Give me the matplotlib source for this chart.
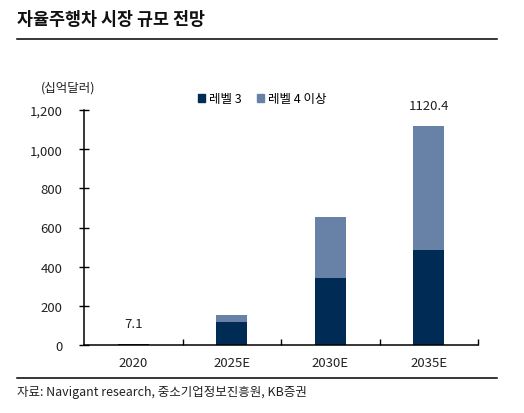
import matplotlib
matplotlib.use("Agg")
import matplotlib.pyplot as plt
from matplotlib.patches import Patch
from matplotlib.lines import Line2D

plt.rcParams['font.family'] = ['Noto Sans CJK KR', 'DejaVu Sans']

categories = ["2020", "2025E", "2030E", "2035E"]
level3 = [6.0, 120, 342, 485]
level4 = [1.1, 35, 311, 635.4]
totals_labels = {0: "7.1", 3: "1120.4"}
yticks = [0, 200, 400, 600, 800, 1000, 1200]
ytick_labels = ["0", "200", "400", "600", "800", "1,000", "1,200"]
series_names = ["레벨 3", "레벨 4 이상"]

dark = "#002B55"
light = "#6782A6"

W, H = 524, 414
fig = plt.figure(figsize=(W/100, H/100), dpi=100)
ax = fig.add_axes([84/W, 1-346/H, (478-84)/W, (346-111)/H])

x = list(range(len(categories)))
ax.bar(x, level3, width=0.315, color=dark, zorder=2)
ax.bar(x, level4, width=0.315, bottom=level3, color=light, zorder=2)

for i, lab in totals_labels.items():
    tot = level3[i] + level4[i]
    ax.annotate(lab, (i, tot), xytext=(0, 10), textcoords="offset points",
                ha="center", va="bottom", fontsize=9.5, color="#222222")

ax.set_xlim(-0.5, 3.5)
ax.set_ylim(0, 1200)
ax.set_yticks(yticks)
ax.set_yticklabels(ytick_labels, fontsize=9.5, color="#222222")
ax.set_xticks(x)
ax.set_xticklabels(categories, fontsize=9.5, color="#222222")
ax.tick_params(axis='x', length=0, pad=8)
ax.tick_params(axis='y', direction='inout', length=7, width=1, pad=12)
ax.set_xticks([0.5, 1.5, 2.5, 3.5], minor=True)
ax.tick_params(axis='x', which='minor', direction='in', length=4, width=1)
for s in ['top', 'right']:
    ax.spines[s].set_visible(False)
ax.spines['left'].set_linewidth(1.1)
ax.spines['bottom'].set_linewidth(1.1)

# title and rules
fig.text(17/W, 1-20/H, "자율주행차 시장 규모 전망", fontsize=12.5, fontweight='bold',
         ha='left', va='center', color="#111111")
fig.add_artist(Line2D([17/W, 497/W], [1-40/H, 1-40/H], color='black', lw=1.1))
fig.add_artist(Line2D([17/W, 497/W], [1-379/H, 1-379/H], color='black', lw=1.1))
fig.text(17/W, 1-393/H, "자료: Navigant research, 중소기업정보진흥원, KB증권", fontsize=9,
         ha='left', va='center', color="#222222")
fig.text(68/W, 1-88/H, "(십억달러)", fontsize=9, ha='center', va='center', color="#222222")

handles = [Patch(color=dark), Patch(color=light)]
fig.legend(handles, series_names, loc='center', bbox_to_anchor=(262/W, 1-100/H), ncol=2,
           frameon=False, fontsize=9, handlelength=0.6, handleheight=0.6,
           handletextpad=0.3, columnspacing=1.2)

fig.savefig("out.png", dpi=100)
